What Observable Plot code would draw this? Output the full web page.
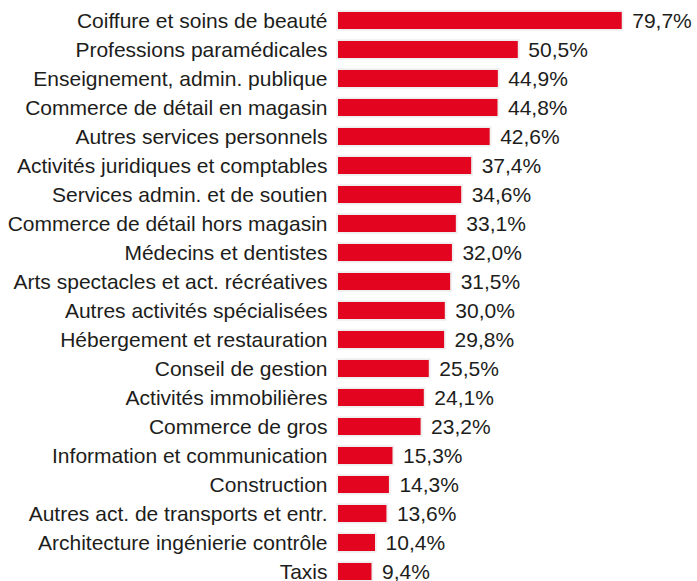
<!DOCTYPE html>
<html><head><meta charset="utf-8">
<script src="https://cdn.jsdelivr.net/npm/d3@7"></script>
<script src="https://cdn.jsdelivr.net/npm/@observablehq/plot@0.6"></script>
<style>body{margin:0;background:#fff;overflow:hidden}</style>
</head><body><div id="chart"></div>
<script>
const categories = [
  "Coiffure et soins de beauté",
  "Professions paramédicales",
  "Enseignement, admin. publique",
  "Commerce de détail en magasin",
  "Autres services personnels",
  "Activités juridiques et comptables",
  "Services admin. et de soutien",
  "Commerce de détail hors magasin",
  "Médecins et dentistes",
  "Arts spectacles et act. récréatives",
  "Autres activités spécialisées",
  "Hébergement et restauration",
  "Conseil de gestion",
  "Activités immobilières",
  "Commerce de gros",
  "Information et communication",
  "Construction",
  "Autres act. de transports et entr.",
  "Architecture ingénierie contrôle",
  "Taxis"
];
const values = [79.7, 50.5, 44.9, 44.8, 42.6, 37.4, 34.6, 33.1, 32.0, 31.5, 30.0, 29.8, 25.5, 24.1, 23.2, 15.3, 14.3, 13.6, 10.4, 9.4];

const data = categories.map((c, i) => ({category: c, value: values[i]}));
const fmt = v => v.toFixed(1).replace(".", ",") + "%";
const ink = "#1d1d1b";
const red = "#e3051f";

const chart = Plot.plot({
  width: 697, height: 581,
  marginLeft: 338, marginRight: 3, marginTop: 0, marginBottom: 0,
  style: {fontFamily: "'Liberation Sans', Arial, Helvetica, sans-serif", fontSize: "21px", color: ink, background: "#fff"},
  x: {domain: [0, 100], axis: null},
  y: {domain: categories, range: [6.5, 586.5], paddingInner: 0.4, paddingOuter: 0.2, axis: null},
  marks: [
    Plot.barX(data, {x: "value", y: "category", fill: "#eeeeee", stroke: "#eeeeee", strokeWidth: 3.5}),
    Plot.barX(data, {x: "value", y: "category", fill: red}),
    Plot.text(data, {x: "value", y: "category", text: d => fmt(d.value), textAnchor: "start", dx: 10, fontSize: 21, fill: ink}),
    Plot.axisY({tickSize: 0, tickPadding: 11, fontSize: 21, label: null, fill: ink})
  ]
});
document.getElementById("chart").append(chart);
</script>
</body></html>
